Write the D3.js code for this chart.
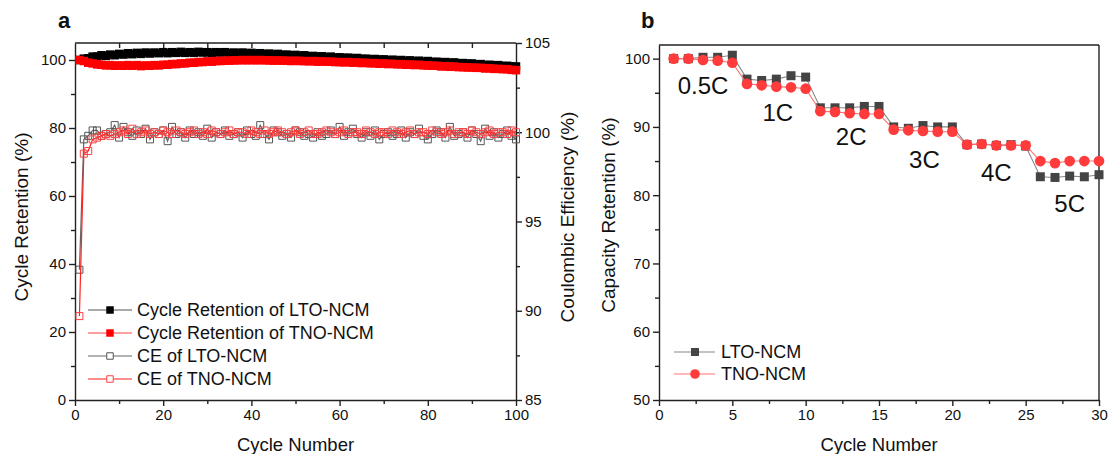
<!DOCTYPE html>
<html>
<head>
<meta charset="utf-8">
<script src="https://cdn.jsdelivr.net/npm/d3@7"></script>
<style>
  body { margin: 0; background: #fff; }
  text { font-family: "Liberation Sans", Arial, sans-serif; fill: #111; }
</style>
</head>
<body>
<div id="chart"></div>
<script>
// ---- panel a data (cycle 1..100) ----
var retLTO = [
  100.0, 100.4, 100.5, 101.0, 101.0, 101.4, 101.2, 101.6, 101.4, 101.8,
  101.6, 102.0, 101.7, 102.1, 101.8, 102.2, 101.9, 102.2, 102.0, 102.3,
  102.0, 102.3, 102.1, 102.4, 102.1, 102.3, 102.1, 102.4, 102.2, 102.3,
  102.1, 102.3, 102.2, 102.3, 102.0, 102.2, 102.0, 102.2, 101.9, 102.1,
  101.8, 102.0, 101.7, 101.9, 101.6, 101.8, 101.5, 101.6, 101.4, 101.5,
  101.2, 101.4, 101.1, 101.2, 101.0, 101.1, 100.8, 101.0, 100.7, 100.8,
  100.6, 100.7, 100.4, 100.6, 100.3, 100.4, 100.2, 100.3, 100.1, 100.2,
  99.9, 100.1, 99.8, 100.0, 99.7, 99.9, 99.6, 99.8, 99.5, 99.7,
  99.4, 99.5, 99.3, 99.4, 99.1, 99.3, 99.0, 99.1, 98.9, 99.0,
  98.7, 98.8, 98.5, 98.6, 98.4, 98.5, 98.2, 98.3, 98.1, 98.1];
var retTNO = [
  100.0, 99.7, 99.2, 99.0, 98.7, 98.6, 98.4, 98.5, 98.3, 98.4,
  98.3, 98.5, 98.3, 98.5, 98.2, 98.4, 98.3, 98.5, 98.4, 98.6,
  98.6, 98.8, 98.8, 99.0, 99.0, 99.2, 99.2, 99.4, 99.4, 99.6,
  99.5, 99.7, 99.7, 99.8, 99.8, 99.9, 99.9, 100.0, 99.9, 100.0,
  99.9, 100.0, 99.9, 99.9, 99.8, 99.9, 99.8, 99.8, 99.7, 99.8,
  99.7, 99.7, 99.6, 99.7, 99.5, 99.6, 99.5, 99.5, 99.4, 99.4,
  99.3, 99.4, 99.2, 99.3, 99.1, 99.2, 99.0, 99.1, 98.9, 99.0,
  98.8, 98.9, 98.7, 98.8, 98.6, 98.7, 98.5, 98.6, 98.4, 98.4,
  98.3, 98.3, 98.1, 98.2, 98.0, 98.1, 97.9, 97.9, 97.8, 97.8,
  97.7, 97.7, 97.5, 97.6, 97.4, 97.4, 97.3, 97.3, 97.1, 97.0];
var ceLTO = [
  92.3, 99.6, 99.8, 100.1, 100.1, 99.8, 99.9, 100.0, 100.4, 99.7,
  100.3, 100.0, 99.8, 100.1, 99.9, 100.2, 99.6, 100.0, 99.9, 100.1,
  99.5, 100.3, 99.9, 100.0, 99.7, 100.1, 99.9, 100.0, 99.8, 100.2,
  99.7, 100.0, 99.9, 100.1, 99.8, 99.9, 100.0, 99.7, 100.1, 99.9,
  99.8, 100.4, 99.9, 99.6, 100.1, 100.0, 99.8, 99.9, 99.7, 100.1,
  100.0, 99.8, 99.9, 99.7, 100.0, 99.8, 99.9, 100.1, 99.9, 100.3,
  99.8, 100.0, 100.2, 99.9, 99.7, 100.0, 99.8, 100.1, 99.6, 99.9,
  100.0, 99.8, 99.9, 100.1, 99.7, 100.0, 99.9, 100.2, 99.8, 99.6,
  99.9, 100.1, 100.0, 99.7, 100.3, 99.8, 99.9, 100.0, 99.7, 100.1,
  99.9, 99.5, 100.2, 99.8, 100.0, 99.7, 99.9, 100.1, 99.8, 99.6];
var ceTNO = [
  89.7, 98.8, 98.95, 99.6, 99.7, 99.8, 99.9, 99.8, 99.9, 100.0,
  100.1, 99.9, 100.2, 99.9, 100.0, 100.1, 99.9, 100.0, 99.9, 100.1,
  100.0, 99.9, 100.1, 100.0, 99.9, 100.0, 100.1, 99.9, 100.0, 99.9,
  100.1, 100.0, 99.9, 100.0, 100.1, 99.9, 100.0, 100.0, 99.9, 100.1,
  100.0, 99.9, 100.1, 99.9, 100.0, 100.1, 100.0, 99.9, 100.0, 100.1,
  99.9, 100.0, 100.1, 99.9, 99.9, 100.0, 100.1, 100.0, 99.9, 100.0,
  100.1, 99.9, 100.0, 100.0, 99.9, 100.1, 100.0, 99.9, 100.0, 100.0,
  99.9, 100.1, 100.0, 99.9, 100.0, 100.1, 99.9, 100.0, 100.0, 99.9,
  100.1, 100.0, 99.9, 100.0, 100.1, 99.9, 100.0, 100.0, 99.9, 100.1,
  100.0, 99.9, 100.0, 100.1, 99.9, 100.0, 100.0, 99.9, 100.1, 100.0];

// ---- panel b data (cycle 1..30) ----
var rateLTO = [100.0, 100.0, 100.2, 100.2, 100.5, 97.0, 96.8, 97.0, 97.5, 97.3,
  92.8, 92.8, 92.8, 93.0, 93.0, 90.0, 89.8, 90.2, 90.0, 90.0,
  87.4, 87.5, 87.3, 87.4, 87.2, 82.7, 82.6, 82.8, 82.7, 83.0];
var rateTNO = [100.0, 100.0, 99.8, 99.7, 99.4, 96.3, 96.1, 95.9, 95.8, 95.6,
  92.3, 92.2, 92.0, 91.9, 91.9, 89.6, 89.5, 89.4, 89.3, 89.3,
  87.4, 87.5, 87.3, 87.3, 87.3, 85.0, 84.7, 85.0, 85.0, 85.0];
var rateLabels = ["0.5C", "1C", "2C", "3C", "4C", "5C"];
var rateLabelPos = [[3.0, 96.1], [8.1, 92.2], [13.1, 88.6], [18.1, 85.3], [23.0, 83.4], [28.0, 78.8]];

var legendA = ["Cycle Retention of LTO-NCM", "Cycle Retention of TNO-NCM", "CE of LTO-NCM", "CE of TNO-NCM"];
var legendB = ["LTO-NCM", "TNO-NCM"];

var svg = d3.select("#chart").append("svg")
    .attr("width", 1108)
    .attr("height", 454);

var axisColor = "#222";

// scales
var xA = d3.scaleLinear().domain([0, 100]).range([75, 516]);
var yA = d3.scaleLinear().domain([0, 105]).range([400, 43]);
var yA2 = d3.scaleLinear().domain([85, 105]).range([400, 43]);
var xB = d3.scaleLinear().domain([0, 30]).range([659, 1099]);
var yB = d3.scaleLinear().domain([50, 102]).range([400, 45]);

function styleAxis(g) {
  g.selectAll("path, line").attr("stroke", axisColor).attr("stroke-width", 1.4);
  g.selectAll("text").attr("font-size", 15).attr("fill", "#111")
    .attr("font-family", "Liberation Sans, Arial, sans-serif");
}

function addAxis(axis, tx, ty) {
  var g = svg.append("g").attr("transform", "translate(" + tx + "," + ty + ")").call(axis);
  styleAxis(g);
  return g;
}

function sym(shape, size) {
  return d3.symbol().type(shape).size(size)();
}

// ---------- panel a ----------
svg.append("line").attr("x1", xA(0)).attr("x2", xA(100)).attr("y1", 43).attr("y2", 43)
  .attr("stroke", axisColor).attr("stroke-width", 1.4);

addAxis(d3.axisBottom(xA).tickValues(d3.range(0, 101, 20)).tickSize(6).tickSizeOuter(0), 0, 400);
addAxis(d3.axisBottom(xA).tickValues(d3.range(10, 100, 20)).tickSize(4).tickFormat(""), 0, 400).select(".domain").remove();
addAxis(d3.axisBottom(xA).tickValues(d3.range(10, 100, 10)).tickSize(5).tickFormat(""), 0, 43).select(".domain").remove();
addAxis(d3.axisLeft(yA).tickValues(d3.range(0, 101, 20)).tickSize(6).tickSizeOuter(0), 75, 0);
addAxis(d3.axisLeft(yA).tickValues(d3.range(10, 100, 20)).tickSize(4).tickFormat(""), 75, 0).select(".domain").remove();
addAxis(d3.axisRight(yA2).tickValues([85, 90, 95, 100, 105]).tickSize(6).tickSizeOuter(0), 516, 0);
addAxis(d3.axisRight(yA2).tickValues([87.5, 92.5, 97.5, 102.5]).tickSize(4).tickFormat(""), 516, 0).select(".domain").remove();

var seriesA = [
  { data: retLTO, y: yA, line: "#555", fill: "#000", stroke: "#000", size: 72 },
  { data: retTNO, y: yA, line: "#ff4040", fill: "#ff0000", stroke: "#ff0000", size: 72 },
  { data: ceLTO, y: yA2, line: "#666", fill: "none", stroke: "#555", size: 49 },
  { data: ceTNO, y: yA2, line: "#ff2020", fill: "none", stroke: "#ff4040", size: 49 }
];

seriesA.forEach(function (s) {
  var pts = s.data.map(function (v, i) { return [i + 1, v]; });
  svg.append("path")
    .attr("d", d3.line().x(function (d) { return xA(d[0]); }).y(function (d) { return s.y(d[1]); })(pts))
    .attr("fill", "none").attr("stroke", s.line).attr("stroke-width", 1.2);
  svg.append("g").selectAll("path").data(pts).enter().append("path")
    .attr("transform", function (d) { return "translate(" + xA(d[0]) + "," + s.y(d[1]) + ")"; })
    .attr("d", sym(d3.symbolSquare, s.size))
    .attr("fill", s.fill === "none" ? "#fff" : s.fill)
    .attr("fill-opacity", s.fill === "none" ? 0 : 1)
    .attr("stroke", s.stroke).attr("stroke-width", s.fill === "none" ? 1 : 0);
});

// legend a
var legA = svg.append("g");
legendA.forEach(function (t, i) {
  var s = seriesA[i];
  var ly = 310 + i * 23;
  legA.append("line").attr("x1", 88).attr("x2", 132).attr("y1", ly).attr("y2", ly)
    .attr("stroke", s.line).attr("stroke-width", 1.2);
  legA.append("path").attr("transform", "translate(110," + ly + ")")
    .attr("d", sym(d3.symbolSquare, s.fill === "none" ? 42 : 56))
    .attr("fill", s.fill === "none" ? "#fff" : s.fill)
    .attr("stroke", s.stroke).attr("stroke-width", s.fill === "none" ? 1 : 0);
  legA.append("text").attr("x", 137).attr("y", ly).attr("dy", "0.36em")
    .attr("font-size", 18).text(t);
});

// titles a
svg.append("text").attr("x", 58).attr("y", 28).attr("font-size", 22).attr("font-weight", "bold").text("a");
svg.append("text").attr("x", xA(50)).attr("y", 451).attr("text-anchor", "middle").attr("font-size", 18.5).text("Cycle Number");
svg.append("text").attr("transform", "translate(28,217) rotate(-90)").attr("text-anchor", "middle")
  .attr("font-size", 19).text("Cycle Retention (%)");
svg.append("text").attr("transform", "translate(574,217) rotate(-90)").attr("text-anchor", "middle")
  .attr("font-size", 19).text("Coulombic Efficiency (%)");

// ---------- panel b ----------
svg.append("line").attr("x1", xB(0)).attr("x2", xB(30)).attr("y1", 45).attr("y2", 45)
  .attr("stroke", axisColor).attr("stroke-width", 1.4);
svg.append("line").attr("x1", xB(30)).attr("x2", xB(30)).attr("y1", 45).attr("y2", 400)
  .attr("stroke", axisColor).attr("stroke-width", 1.4);

addAxis(d3.axisBottom(xB).tickValues(d3.range(0, 31, 5)).tickSize(6).tickSizeOuter(0), 0, 400);
addAxis(d3.axisBottom(xB).tickValues(d3.range(2.5, 30, 5)).tickSize(4).tickFormat(""), 0, 400).select(".domain").remove();
addAxis(d3.axisLeft(yB).tickValues(d3.range(50, 101, 10)).tickSize(6).tickSizeOuter(0), 659, 0);
addAxis(d3.axisLeft(yB).tickValues(d3.range(55, 100, 10)).tickSize(4).tickFormat(""), 659, 0).select(".domain").remove();

var seriesB = [
  { data: rateLTO, line: "#888", fill: "#444", shape: d3.symbolSquare, size: 81 },
  { data: rateTNO, line: "#ff7070", fill: "#ff3b3b", shape: d3.symbolCircle, size: 90 }
];

seriesB.forEach(function (s) {
  var pts = s.data.map(function (v, i) { return [i + 1, v]; });
  svg.append("path")
    .attr("d", d3.line().x(function (d) { return xB(d[0]); }).y(function (d) { return yB(d[1]); })(pts))
    .attr("fill", "none").attr("stroke", s.line).attr("stroke-width", 1.1);
  svg.append("g").selectAll("path").data(pts).enter().append("path")
    .attr("transform", function (d) { return "translate(" + xB(d[0]) + "," + yB(d[1]) + ")"; })
    .attr("d", sym(s.shape, s.size))
    .attr("fill", s.fill);
});

rateLabels.forEach(function (t, i) {
  svg.append("text").attr("x", xB(rateLabelPos[i][0])).attr("y", yB(rateLabelPos[i][1]))
    .attr("text-anchor", "middle").attr("dy", "0.36em").attr("font-size", 24).text(t);
});

var legB = svg.append("g");
legendB.forEach(function (t, i) {
  var s = seriesB[i];
  var ly = 352 + i * 22;
  legB.append("line").attr("x1", 674).attr("x2", 715).attr("y1", ly).attr("y2", ly)
    .attr("stroke", s.line).attr("stroke-width", 1.1);
  legB.append("path").attr("transform", "translate(695," + ly + ")")
    .attr("d", sym(s.shape, s.size * 0.8)).attr("fill", s.fill);
  legB.append("text").attr("x", 721).attr("y", ly).attr("dy", "0.36em")
    .attr("font-size", 18).text(t);
});

svg.append("text").attr("x", 641).attr("y", 28).attr("font-size", 22).attr("font-weight", "bold").text("b");
svg.append("text").attr("x", xB(15)).attr("y", 451).attr("text-anchor", "middle").attr("font-size", 18.5).text("Cycle Number");
svg.append("text").attr("transform", "translate(615,215) rotate(-90)").attr("text-anchor", "middle")
  .attr("font-size", 19).text("Capacity Retention (%)");
</script>
</body>
</html>
